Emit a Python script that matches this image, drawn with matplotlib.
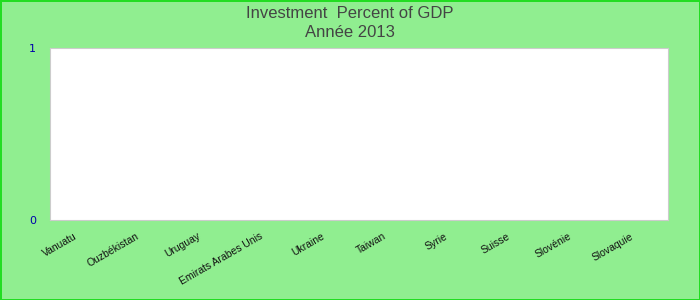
import matplotlib
matplotlib.use('Agg')
import matplotlib.pyplot as plt
from matplotlib.transforms import ScaledTranslation

# pays et valeurs (aucune donnee visible pour 2013)
pays = ['Vanuatu', 'Ouzbékistan', 'Uruguay', 'Emirats Arabes Unis', 'Ukraine',
        'Taiwan', 'Syrie', 'Suisse', 'Slovénie', 'Slovaquie']
valeurs = [0, 0, 0, 0, 0, 0, 0, 0, 0, 0]
y_ticks = [0, 1]

plt.rcParams['font.family'] = ['Liberation Sans', 'DejaVu Sans']

fig = plt.figure(figsize=(7, 3), dpi=100, facecolor='#90ee90',
                 edgecolor='#22dd22', linewidth=2)
ax = fig.add_axes([50 / 700, 80 / 300, 618 / 700, 172 / 300])
ax.set_facecolor('white')

x = range(len(pays))
ax.bar(x, valeurs, color='#4572a7', width=0.6)
ax.set_xlim(-0.5, len(pays) - 0.5)
ax.set_ylim(0, 1)
ax.set_yticks(y_ticks)
ax.set_yticklabels([str(v) for v in y_ticks], color='#0000aa', fontsize=8,
                   family='DejaVu Sans')
ax.set_xticks(list(x))
ax.set_xticklabels(pays, rotation=30, ha='right', rotation_mode='anchor',
                   fontsize=7.5, color='#111111')
ax.tick_params(axis='both', length=0)
ax.tick_params(axis='y', pad=10)
ax.tick_params(axis='x', pad=8)
# decaler les etiquettes un peu vers la gauche
decal = ScaledTranslation(-7 / 100, 0, fig.dpi_scale_trans)
for lab in ax.get_xticklabels():
    lab.set_transform(lab.get_transform() + decal)
for s in ax.spines.values():
    s.set_color('#cccccc')

fig.text(0.5, 0.955, 'Investment  Percent of GDP', ha='center', va='center',
         fontsize=12, color='#444444')
fig.text(0.5, 0.893, 'Année 2013', ha='center', va='center',
         fontsize=12, color='#444444')

fig.savefig('out.png', dpi=100, facecolor=fig.get_facecolor(),
            edgecolor=fig.get_edgecolor())
